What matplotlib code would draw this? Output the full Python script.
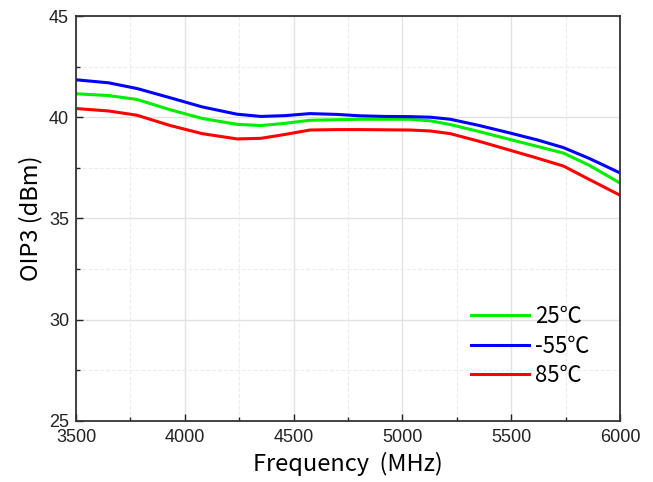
import numpy as np
import matplotlib
matplotlib.use("Agg")
import matplotlib.pyplot as plt
from matplotlib.ticker import MultipleLocator

plt.rcParams['font.family'] = ['Liberation Sans', 'DejaVu Sans']
cjk = ['Noto Sans CJK SC', 'DejaVu Sans']

freq = [3500, 3650, 3780, 3930, 4080, 4240, 4350, 4460, 4575, 4700, 4805,
        4920, 5035, 5130, 5220, 5350, 5495, 5620, 5740, 5860, 6000]

oip3_25 = [41.16, 41.07, 40.88, 40.38, 39.94, 39.65, 39.59, 39.70, 39.85, 39.88, 39.90,
           39.90, 39.90, 39.82, 39.64, 39.30, 38.90, 38.56, 38.23, 37.62, 36.75]
oip3_m55 = [41.85, 41.70, 41.42, 40.97, 40.51, 40.15, 40.04, 40.08, 40.18, 40.14, 40.07,
            40.04, 40.03, 40.00, 39.90, 39.60, 39.22, 38.88, 38.50, 37.96, 37.25]
oip3_85 = [40.43, 40.31, 40.10, 39.60, 39.19, 38.93, 38.96, 39.15, 39.37, 39.39, 39.39,
           39.38, 39.37, 39.32, 39.19, 38.82, 38.37, 37.98, 37.59, 36.92, 36.15]

labels = ['25℃', '-55℃', '85℃']
colors = ['#00ee00', '#0000ff', '#ff0000']

fig = plt.figure(figsize=(6.53, 4.82), dpi=100)
ax = fig.add_axes([0.1164, 0.1266, 0.8331, 0.8402])

for y, lab, c in zip([oip3_25, oip3_m55, oip3_85], labels, colors):
    ax.plot(freq, y, color=c, lw=2.2, label=lab, solid_joinstyle='round')

ax.set_xlim(3500, 6000)
ax.set_ylim(25, 45)
ax.xaxis.set_major_locator(MultipleLocator(500))
ax.xaxis.set_minor_locator(MultipleLocator(250))
ax.yaxis.set_major_locator(MultipleLocator(5))
ax.yaxis.set_minor_locator(MultipleLocator(2.5))

ax.grid(which='major', color='#e2e2e2', lw=1, ls='-')
ax.grid(which='minor', color='#ececec', lw=0.8, ls='--')
ax.set_axisbelow(True)

ax.tick_params(which='both', direction='in', labelsize=13, colors='#222222')
ax.tick_params(axis='x', pad=6)
ax.tick_params(axis='y', pad=5)
ax.tick_params(which='major', length=5, width=1)
ax.tick_params(which='minor', length=3, width=1)
for s in ax.spines.values():
    s.set_color('#333333')
    s.set_linewidth(1.3)

ax.set_xlabel('Frequency  (MHz)', fontsize=17, family=cjk, labelpad=4)
ax.set_ylabel('OIP3 (dBm)', fontsize=17, family=cjk, labelpad=5)

ax.legend(loc='lower right', bbox_to_anchor=(0.972, 0.045), frameon=False, handlelength=2.6,
          prop={'family': cjk, 'size': 16}, labelspacing=0.3, handletextpad=0.28,
          borderaxespad=0.3)

fig.savefig('out.png', dpi=100)
